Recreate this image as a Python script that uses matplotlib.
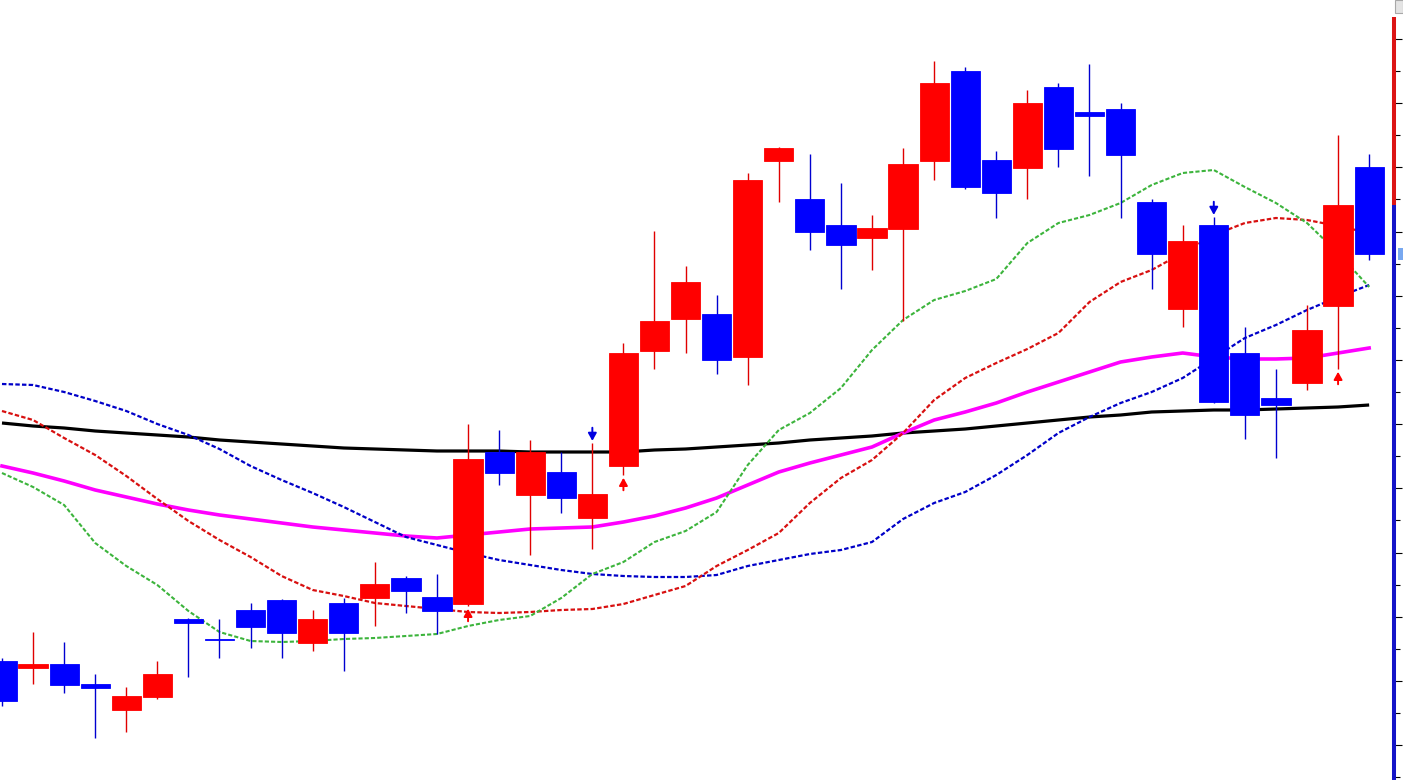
import matplotlib
matplotlib.use('Agg')
import matplotlib.pyplot as plt
import matplotlib.transforms as mtransforms
from matplotlib.patches import Rectangle
import numpy as np

# OHLC prices, one bar per entry (oldest first)
opens = [1.08119, 1.08112, 1.08116, 1.08096, 1.08070, 1.08083, 1.08161, 1.08141, 1.08170, 1.08180,
         1.08137, 1.08177, 1.08182, 1.08202, 1.08183, 1.08176, 1.08328, 1.08285, 1.08308, 1.08262,
         1.08314, 1.08429, 1.08461, 1.08466, 1.08423, 1.08619, 1.08581, 1.08555, 1.08542, 1.08551,
         1.08619, 1.08709, 1.08620, 1.08612, 1.08693, 1.08668, 1.08671, 1.08578, 1.08471, 1.08555,
         1.08427, 1.08382, 1.08397, 1.08474, 1.08613]
highs = [1.08122, 1.08148, 1.08138, 1.08106, 1.08093, 1.08119, 1.08162, 1.08161, 1.08177, 1.08181,
         1.08170, 1.08182, 1.08218, 1.08204, 1.08206, 1.08356, 1.08350, 1.08340, 1.08328, 1.08337,
         1.08437, 1.08549, 1.08514, 1.08485, 1.08607, 1.08633, 1.08626, 1.08597, 1.08565, 1.08632,
         1.08719, 1.08713, 1.08629, 1.08690, 1.08697, 1.08716, 1.08677, 1.08581, 1.08555, 1.08563,
         1.08453, 1.08411, 1.08475, 1.08645, 1.08626]
lows = [1.08074, 1.08096, 1.08087, 1.08042, 1.08048, 1.08081, 1.08103, 1.08122, 1.08132, 1.08122,
        1.08129, 1.08109, 1.08154, 1.08167, 1.08146, 1.08174, 1.08295, 1.08225, 1.08267, 1.08231,
        1.08305, 1.08411, 1.08427, 1.08406, 1.08395, 1.08578, 1.08530, 1.08491, 1.08510, 1.08459,
        1.08600, 1.08591, 1.08562, 1.08581, 1.08613, 1.08604, 1.08562, 1.08491, 1.08453, 1.08377,
        1.08341, 1.08322, 1.08390, 1.08411, 1.08520]
closes = [1.08079, 1.08116, 1.08095, 1.08092, 1.08084, 1.08106, 1.08157, 1.08140, 1.08153, 1.08147,
          1.08161, 1.08147, 1.08196, 1.08189, 1.08169, 1.08321, 1.08307, 1.08328, 1.08282, 1.08286,
          1.08427, 1.08459, 1.08498, 1.08420, 1.08600, 1.08632, 1.08548, 1.08535, 1.08552, 1.08616,
          1.08697, 1.08593, 1.08587, 1.08677, 1.08631, 1.08664, 1.08625, 1.08526, 1.08539, 1.08378,
          1.08365, 1.08375, 1.08450, 1.08575, 1.08526]

# moving averages, value per bar
ma_black = [1.08357, 1.08354, 1.08352, 1.08349, 1.08347, 1.08345, 1.08343, 1.08340, 1.08338, 1.08336,
            1.08334, 1.08332, 1.08331, 1.08330, 1.08329, 1.08329, 1.08329, 1.08328, 1.08328, 1.08328,
            1.08328, 1.08330, 1.08331, 1.08333, 1.08335, 1.08337, 1.08340, 1.08342, 1.08344, 1.08347,
            1.08349, 1.08351, 1.08354, 1.08357, 1.08360, 1.08363, 1.08365, 1.08368, 1.08369, 1.08370,
            1.08370, 1.08371, 1.08372, 1.08373, 1.08375]
ma_magenta = [1.08314, 1.08307, 1.08299, 1.08290, 1.08283, 1.08276, 1.08270, 1.08265, 1.08261, 1.08257,
              1.08253, 1.08250, 1.08247, 1.08244, 1.08242, 1.08245, 1.08248, 1.08251, 1.08252, 1.08253,
              1.08258, 1.08264, 1.08272, 1.08282, 1.08295, 1.08308, 1.08317, 1.08325, 1.08333, 1.08347,
              1.08360, 1.08368, 1.08377, 1.08388, 1.08398, 1.08408, 1.08418, 1.08423, 1.08427, 1.08423,
              1.08421, 1.08421, 1.08422, 1.08427, 1.08432]
ma_blue = [1.08396, 1.08395, 1.08388, 1.08379, 1.08369, 1.08356, 1.08345, 1.08331, 1.08314, 1.08300,
           1.08287, 1.08273, 1.08258, 1.08243, 1.08235, 1.08227, 1.08220, 1.08215, 1.08210, 1.08206,
           1.08204, 1.08203, 1.08203, 1.08205, 1.08214, 1.08220, 1.08226, 1.08230, 1.08238, 1.08261,
           1.08277, 1.08288, 1.08305, 1.08325, 1.08347, 1.08363, 1.08377, 1.08388, 1.08402, 1.08422,
           1.08442, 1.08455, 1.08470, 1.08483, 1.08495]
ma_red = [1.08369, 1.08360, 1.08342, 1.08325, 1.08304, 1.08281, 1.08259, 1.08240, 1.08223, 1.08204,
          1.08190, 1.08184, 1.08177, 1.08174, 1.08171, 1.08168, 1.08167, 1.08168, 1.08170, 1.08171,
          1.08176, 1.08185, 1.08194, 1.08214, 1.08230, 1.08247, 1.08277, 1.08302, 1.08320, 1.08347,
          1.08380, 1.08402, 1.08417, 1.08431, 1.08447, 1.08478, 1.08498, 1.08510, 1.08527, 1.08545,
          1.08557, 1.08562, 1.08560, 1.08554, 1.08547]
ma_green = [1.08307, 1.08293, 1.08275, 1.08237, 1.08214, 1.08195, 1.08169, 1.08148, 1.08139, 1.08138,
            1.08139, 1.08141, 1.08142, 1.08144, 1.08146, 1.08154, 1.08160, 1.08164, 1.08182, 1.08206,
            1.08218, 1.08238, 1.08249, 1.08268, 1.08315, 1.08350, 1.08367, 1.08392, 1.08430, 1.08460,
            1.08480, 1.08489, 1.08501, 1.08537, 1.08557, 1.08565, 1.08577, 1.08595, 1.08607, 1.08610,
            1.08593, 1.08577, 1.08557, 1.08527, 1.08493]

# signal arrows (bar index)
buy_signals = [15, 20, 43]
sell_signals = [19, 39]

# view range and axis marks
price_lo, price_hi = 1.08000, 1.08780
major_ticks = np.arange(1.08741, 1.07990, -0.000642)
minor_ticks = np.arange(1.08709, 1.07990, -0.000642)
scale_split = 1.08575
scale_top = 1.08763

UP = '#ff0000'
DOWN = '#0000ff'

fig = plt.figure(figsize=(14.03, 7.80), dpi=100)
ax = fig.add_axes([0, 0, 1394 / 1403, 1])

x = np.arange(len(opens))

# moving averages (behind the candles)
ax.plot(x, ma_black, color='black', lw=2.3, zorder=1, solid_capstyle='butt')
ax.plot(x, ma_magenta, color='#ff00ff', lw=2.6, zorder=1)
ax.plot(x, ma_blue, color='#0000c8', lw=1.6, dashes=(2, 1), zorder=1)
ax.plot(x, ma_red, color='#d81010', lw=1.6, dashes=(2, 1), zorder=1)
ax.plot(x, ma_green, color='#3cb43c', lw=1.5, dashes=(2, 1), zorder=1)

# candles
for i in range(len(opens)):
    o, h, l, c = opens[i], highs[i], lows[i], closes[i]
    col = UP if c >= o else DOWN
    wick = '#e00000' if c >= o else '#0000d0'
    ax.vlines(i, l, h, color=wick, lw=1.0, zorder=2)
    ax.bar(i, abs(c - o), bottom=min(o, c), width=0.94, color=col,
           edgecolor=col, linewidth=0.6, zorder=3)

# buy / sell arrows
for i in buy_signals:
    ax.annotate('', xy=(i, lows[i]), xytext=(0, -11), textcoords='offset points',
                arrowprops=dict(arrowstyle='-|>,head_length=0.45,head_width=0.25',
                                color='#ff0000', lw=1.4, shrinkA=0, shrinkB=2),
                zorder=4)
for i in sell_signals:
    ax.annotate('', xy=(i, highs[i]), xytext=(0, 11), textcoords='offset points',
                arrowprops=dict(arrowstyle='-|>,head_length=0.45,head_width=0.25',
                                color='#0000e0', lw=1.4, shrinkA=0, shrinkB=1.5),
                zorder=4)

ax.set_xlim(-0.064, 44.80)
ax.set_ylim(price_lo, price_hi)

for s in ax.spines.values():
    s.set_visible(False)
ax.set_xticks([])
ax.yaxis.set_ticks_position('right')
ax.set_yticks(major_ticks)
ax.set_yticks(minor_ticks, minor=True)
ax.tick_params(axis='y', which='major', direction='out', length=5.8, width=0.8,
               color='black', labelright=False, labelleft=False)
ax.tick_params(axis='y', which='minor', direction='out', length=4.3, width=0.8,
               color='black')

# coloured price scale bar on the right
yt = ax.get_yaxis_transform()
ax.plot([1.0, 1.0], [price_lo, scale_split], transform=yt, color='#1414c8',
        lw=2.9, clip_on=False, solid_capstyle='butt', zorder=5)
ax.plot([1.0, 1.0], [scale_split, scale_top], transform=yt, color='#dc1414',
        lw=2.9, clip_on=False, solid_capstyle='butt', zorder=5)

# last price marker
bt = mtransforms.blended_transform_factory(ax.transAxes, ax.transData)
ax.add_patch(Rectangle((1398 / 1394, closes[-1] - 0.00006), 5 / 1394, 0.00012,
                       transform=bt, facecolor='#78a8f0', edgecolor='none',
                       clip_on=False, zorder=5))

# small grey button in the corner
fig.patches.append(Rectangle((1395 / 1403, 1 - 13 / 780), 8 / 1403, 13 / 780,
                             transform=fig.transFigure, facecolor='#e4e4e4',
                             edgecolor='#a8a8a8', lw=0.8))

fig.savefig('out.png', dpi=100)
